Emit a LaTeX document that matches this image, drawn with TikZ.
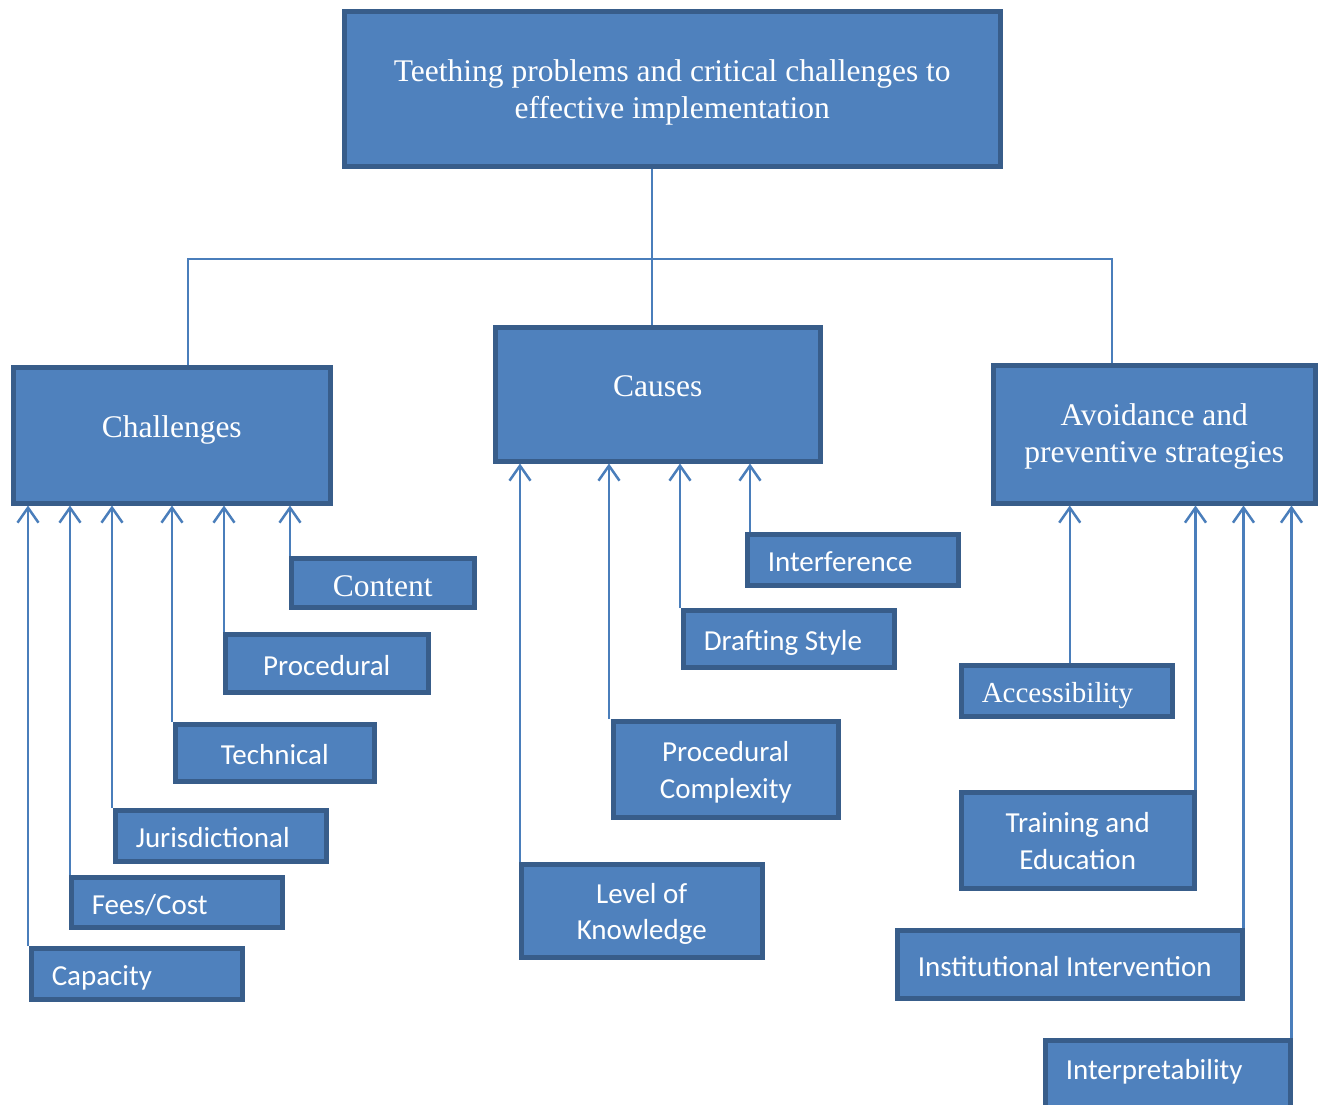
\documentclass[tikz,border=0pt]{standalone}
\usepackage{fontspec}
\setmainfont{Liberation Serif}
\setsansfont{Carlito}
\usetikzlibrary{arrows.meta}
\definecolor{boxfill}{HTML}{4F81BD}
\definecolor{boxline}{HTML}{385D8A}
\definecolor{linkline}{HTML}{4A7EBB}

\begin{document}
\begin{tikzpicture}[x=1pt, y=-1pt,
    box/.style={draw=boxline, fill=boxfill, line width=4.5pt, text=white, anchor=north west, inner sep=0pt},
    head/.style={box, align=flush center, font=\fontsize{31.5}{37}\selectfont},
    leaf/.style={box, font=\sffamily\fontsize{29}{36.5}\selectfont, text height=24pt, text depth=0pt},
    pair/.style={box, align=flush center, font=\sffamily\fontsize{29}{36.5}\selectfont, text height=21.5pt, text depth=36.5pt},
    link/.style={draw=linkline, line width=2.5pt, -{Straight Barb[length=15pt,width=21pt]}},
    tree/.style={draw=linkline, line width=1.8pt}]
    \useasboundingbox (0,0) rectangle (1326,1104);

    % --- Top and the three headings ---
    \node[head, minimum width=656, minimum height=155, text width=620, text height=23pt, text depth=37pt] (top) at (342,9) {Teething problems and critical challenges to\\effective implementation};
    \node[head, minimum width=317, minimum height=136, text height=22pt, text depth=17pt] (chal) at (11,365) {Challenges};
    \node[head, minimum width=325, minimum height=134, text height=22pt, text depth=17pt] (causes) at (493,325) {Causes};
    \node[head, minimum width=322, minimum height=138, text width=310, text height=19.5pt, text depth=38pt] (avoid) at (991,363) {Avoidance and\\preventive strategies};

    \coordinate (hub) at (652,259);
    \coordinate (lft) at (188,259);
    \coordinate (rgt) at (1112,259);
    \draw[tree] (top.south -| hub) -- (hub) -- (causes.north -| hub);
    \draw[tree] (chal.north -| lft) -- (lft) -- (rgt) -- (avoid.north -| rgt);

    % --- Challenges ---
    \node[leaf, minimum width=183, minimum height=49, font=\fontsize{31.5}{37}\selectfont, text height=28pt] (cont) at (289,556) {Content};
    \node[leaf, minimum width=203, minimum height=58] (proc) at (223,632) {Procedural};
    \node[leaf, minimum width=199, minimum height=57] (tech) at (173,722) {Technical};
    \node[leaf, minimum width=211, minimum height=51, text width=170, align=flush left] (juris) at (113,808) {Jurisdictional};
    \node[leaf, minimum width=211, minimum height=50, text width=170, align=flush left] (fees) at (69,875) {Fees/Cost};
    \node[leaf, minimum width=211, minimum height=51, text width=170, align=flush left] (cap) at (29,946) {Capacity};

    \draw[link] ([xshift=-1pt]cap.north west) -- ([xshift=-1pt]cap.north west |- chal.south);
    \draw[link] ([xshift=1pt]fees.north west) -- ([xshift=1pt]fees.north west |- chal.south);
    \draw[link] ([xshift=-1pt]juris.north west) -- ([xshift=-1pt]juris.north west |- chal.south);
    \draw[link] ([xshift=-1pt]tech.north west) -- ([xshift=-1pt]tech.north west |- chal.south);
    \draw[link] ([xshift=1pt]proc.north west) -- ([xshift=1pt]proc.north west |- chal.south);
    \draw[link] ([xshift=1pt]cont.north west) -- ([xshift=1pt]cont.north west |- chal.south);

    % --- Causes ---
    \node[leaf, minimum width=211, minimum height=51, text width=170, align=flush left] (inter) at (745,532) {Interference};
    \node[leaf, minimum width=211, minimum height=57, text width=170, align=flush left] (draft) at (681,608) {Drafting Style};
    \node[pair, minimum width=225, minimum height=96, text width=200] (pcomp) at (611,719) {Procedural\\Complexity};
    \node[pair, minimum width=241, minimum height=93, text width=220] (know) at (519,862) {Level of\\Knowledge};

    \draw[link] ([xshift=1pt]know.north west) -- ([xshift=1pt]know.north west |- causes.south);
    \draw[link] ([xshift=-2pt]pcomp.north west) -- ([xshift=-2pt]pcomp.north west |- causes.south);
    \draw[link] ([xshift=-1pt]draft.north west) -- ([xshift=-1pt]draft.north west |- causes.south);
    \draw[link] ([xshift=5pt]inter.north west) -- ([xshift=5pt]inter.north west |- causes.south);

    % --- Avoidance and preventive strategies ---
    \node[leaf, minimum width=211, minimum height=51, text width=170, align=flush left, font=\fontsize{29}{35}\selectfont] (acc) at (959,663) {Accessibility};
    \node[pair, minimum width=233, minimum height=96, text width=210] (train) at (959,790) {Training and\\Education};
    \node[leaf, minimum width=345, minimum height=68, text width=304, align=flush left] (inst) at (895,928) {Institutional Intervention};
    \node[leaf, minimum width=245, minimum height=76, text width=204, align=flush left, text depth=22pt] (interp) at (1043,1038) {Interpretability};

    \draw[link] ([xshift=3pt]acc.north) -- ([xshift=3pt]acc.north |- avoid.south);
    \draw[link] ([xshift=-1pt]train.north east) -- ([xshift=-1pt]train.north east |- avoid.south);
    \draw[link] ([xshift=-1pt]inst.north east) -- ([xshift=-1pt]inst.north east |- avoid.south);
    \draw[link] ([xshift=-1pt]interp.north east) -- ([xshift=-1pt]interp.north east |- avoid.south);
\end{tikzpicture}
\end{document}
